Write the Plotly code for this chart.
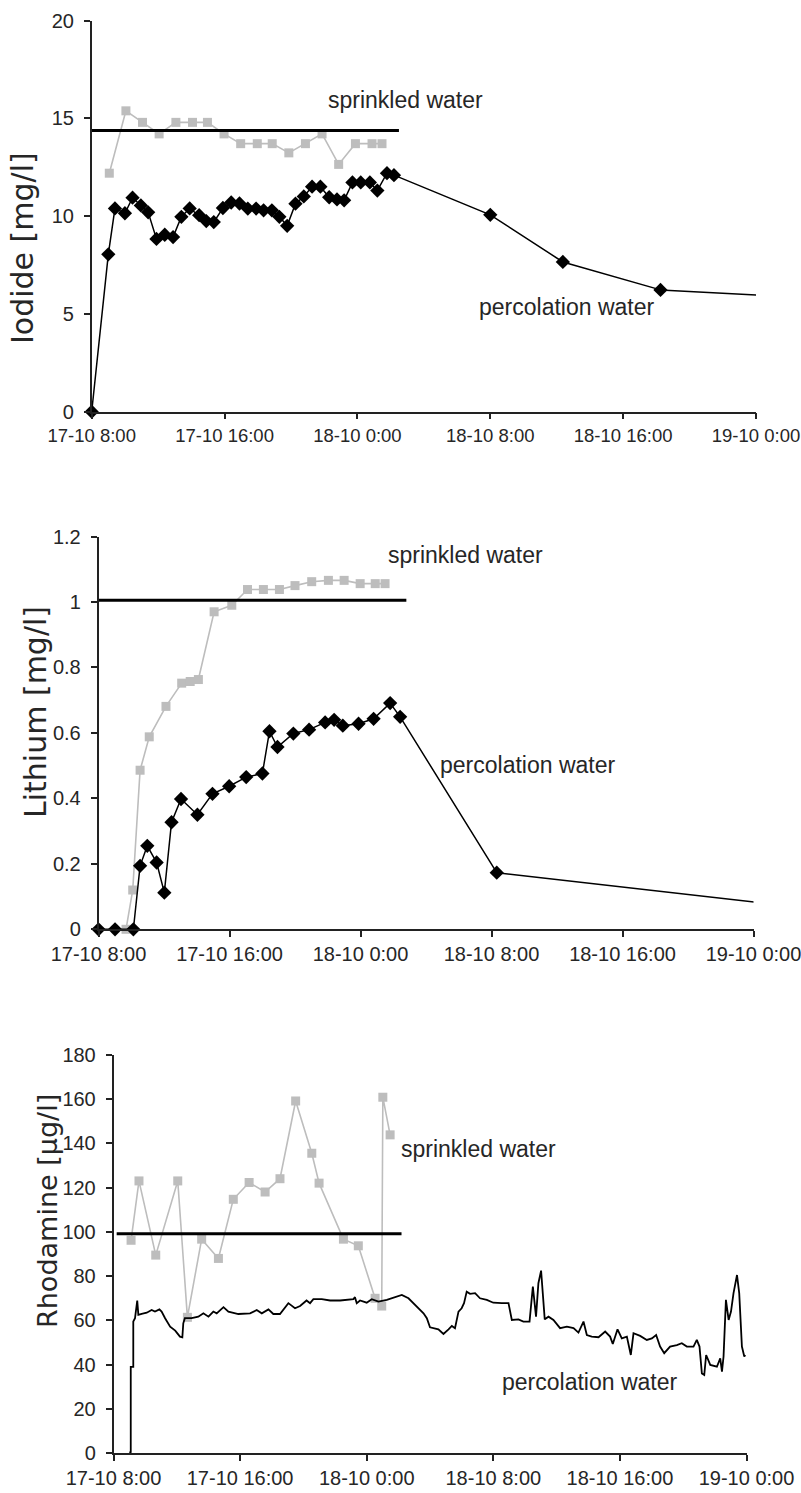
import plotly.graph_objects as go

W, H = 801, 1493

# ---------------- data (x = hours after 17-10 8:00) ----------------
tick_hours = [0, 8, 16, 24, 32, 40]
tick_labels = ["17-10 8:00", "17-10 16:00", "18-10 0:00", "18-10 8:00", "18-10 16:00", "19-10 0:00"]

# Iodide
iod_perc_t = [0.0, 1.0, 1.4, 2.0, 2.46, 2.96, 3.4, 3.9, 4.4, 4.9, 5.4, 5.9, 6.47, 6.9, 7.35, 7.9,
              8.4, 8.9, 9.4, 9.9, 10.35, 10.85, 11.3, 11.77, 12.27, 12.77, 13.27, 13.77, 14.3,
              14.77, 15.2, 15.7, 16.2, 16.75, 17.2, 17.78, 18.2, 24.0, 28.37, 34.25]
iod_perc_v = [0.0, 8.05, 10.4, 10.15, 10.95, 10.55, 10.2, 8.84, 9.05, 8.93, 9.97, 10.4, 10.05, 9.75,
              9.7, 10.42, 10.7, 10.65, 10.39, 10.39, 10.3, 10.3, 9.97, 9.51, 10.64, 11.01, 11.51,
              11.51, 10.97, 10.86, 10.81, 11.73, 11.73, 11.73, 11.31, 12.2, 12.1, 10.07, 7.66, 6.23]
iod_tail_t = [34.25, 41.0]
iod_tail_v = [6.23, 5.92]
iod_spr_t = [1.06, 2.06, 3.06, 4.06, 5.07, 6.07, 6.97, 7.97, 8.97, 9.97, 10.87, 11.87, 12.87,
             13.87, 14.87, 15.88, 16.88, 17.48]
iod_spr_v = [12.2, 15.39, 14.8, 14.21, 14.8, 14.8, 14.8, 14.21, 13.71, 13.71, 13.71, 13.24, 13.71,
             14.21, 12.65, 13.71, 13.71, 13.71]
iod_mean_t = [0.0, 18.5]
iod_mean_v = [14.38, 14.38]

# Lithium
li_perc_t = [0.0, 1.01, 2.13, 2.54, 2.98, 3.55, 4.02, 4.46, 5.04, 6.04, 6.96, 7.98, 9.02, 10.01,
             10.44, 10.93, 11.9, 12.86, 13.84, 14.39, 14.92, 15.88, 16.8, 17.81, 18.42, 24.32]
li_perc_v = [0.0, 0.0, 0.0, 0.194, 0.255, 0.204, 0.112, 0.327, 0.398, 0.35, 0.414, 0.437, 0.465,
             0.476, 0.605, 0.557, 0.598, 0.61, 0.632, 0.64, 0.622, 0.628, 0.643, 0.691, 0.649, 0.173]
li_tail_t = [24.32, 41.0]
li_tail_v = [0.173, 0.078]
li_spr_t = [1.68, 2.09, 2.54, 3.1, 4.12, 5.08, 5.6, 6.1, 7.06, 8.14, 9.1, 10.07, 11.05, 12.0,
            13.02, 14.04, 15.0, 15.98, 16.9, 17.5]
li_spr_v = [0.0, 0.12, 0.486, 0.588, 0.681, 0.752, 0.757, 0.763, 0.97, 0.99, 1.038, 1.038, 1.038,
            1.05, 1.062, 1.066, 1.066, 1.056, 1.056, 1.056]
li_mean_t = [-0.2, 18.8]
li_mean_v = [1.005, 1.005]

# Rhodamine
rho_perc_t = [1.0, 1.09, 1.09, 1.25, 1.25, 1.36, 1.5, 1.57, 1.78, 2.1, 2.41, 2.62, 2.9, 3.04, 3.26,
              3.58, 3.9, 4.2, 4.35, 4.41, 4.51, 4.94, 5.36, 5.68, 6.0, 6.31, 6.52, 6.95, 7.26,
              7.57, 7.89, 8.63, 9.05, 9.37, 9.79, 10.1, 10.52, 11.05, 11.47, 11.79, 12.2, 12.42,
              12.63, 13.16, 13.69, 14.32, 15.16, 15.26, 15.37, 15.58, 16.0, 16.32, 16.74, 17.27,
              17.58, 18.22, 18.64, 19.07, 19.38, 19.59, 19.8, 20.0, 20.53, 20.85, 21.17, 21.38,
              21.58, 21.8, 22.0, 22.15, 22.32, 22.53, 22.85, 23.16, 23.59, 24.0, 24.54, 24.96,
              25.17, 25.59, 25.9, 26.29, 26.5, 26.7, 26.85, 27.02, 27.25, 27.49, 27.8, 28.22,
              28.65, 29.07, 29.38, 29.7, 29.91, 30.22, 30.65, 31.07, 31.38, 31.55, 31.85, 32.12,
              32.44, 32.69, 32.86, 33.28, 33.7, 34.02, 34.29, 34.54, 34.8, 35.17, 35.6, 35.91,
              36.23, 36.65, 36.86, 37.03, 37.18, 37.33, 37.45, 37.71, 38.13, 38.34, 38.45, 38.55,
              38.7, 38.87, 39.02, 39.18, 39.4, 39.54, 39.71, 39.86, 39.92]
rho_perc_v = [0.3, 0.5, 39.0, 39.0, 59.5, 61.0, 69.0, 62.5, 63.0, 63.5, 64.7, 64.0, 65.0, 64.0, 61.0,
              57.2, 55.4, 52.7, 52.4, 58.7, 61.0, 61.0, 61.7, 63.2, 61.7, 64.0, 63.2, 66.0, 64.0,
              63.5, 62.9, 63.2, 64.7, 63.2, 65.0, 62.9, 62.9, 67.8, 65.5, 66.5, 69.0, 67.8,
              69.6, 69.6, 69.0, 69.0, 69.6, 70.5, 67.8, 69.0, 68.0, 69.6, 68.5, 69.3,
              70.0, 71.5, 70.0, 67.0, 64.7, 63.2, 61.0, 56.9, 56.0, 53.9, 56.0, 57.5,
              56.5, 64.0, 65.5, 67.8, 73.0, 72.0, 72.3, 70.0, 69.3, 68.0, 67.8, 67.8,
              60.2, 60.5, 59.5, 59.5, 75.3, 61.7, 76.8, 82.5, 60.5, 61.7, 60.2, 56.5,
              57.2, 56.5, 54.5, 59.5, 53.4, 52.7, 52.4, 55.0, 52.7, 49.4, 56.0, 51.9,
              52.7, 44.4, 54.2, 53.0, 51.2, 51.9, 53.4, 48.2, 45.2, 48.2, 48.9, 49.7,
              48.2, 48.2, 51.2, 48.2, 36.1, 35.4, 44.4, 39.9, 39.1, 42.9, 36.9, 43.7,
              69.3, 60.2, 64.0, 72.3, 80.5, 72.3, 48.2, 43.7, 44.4]
rho_spr_t = [1.11, 1.61, 2.67, 4.06, 4.67, 5.57, 6.63, 7.57, 8.57, 9.58, 10.52, 11.51, 12.53,
             12.99, 14.53, 15.47, 16.53, 16.95, 17.02, 17.48]
rho_spr_v = [96.2, 123.0, 89.5, 123.0, 61.4, 96.7, 88.0, 114.7, 122.3, 118.0, 124.0, 159.1, 135.5,
             122.0, 96.7, 93.7, 70.0, 66.5, 160.8, 143.8]
rho_mean_t = [0.2, 18.2]
rho_mean_v = [99.2, 99.2]

# ---------------- styling ----------------
FONT = "Liberation Sans, Arial, sans-serif"
TFONT = "DejaVu Sans, Liberation Sans, sans-serif"
TXT = "#262626"
AX = "#222222"
GRAY = "#bdbdbd"
LABFS = 23

def dom_x(a, b):
    return [a / W, b / W]

def dom_y(top, bottom):
    return [1 - bottom / H, 1 - top / H]

panels = [
    dict(x=(91.7, 756.0), y=(20.7, 411.7), yr=[0, 20], dt=5, title="Iodide [mg/l]",
         tx=23, ty=248, tfs=30, xfs=18.5, yfs=20),
    dict(x=(98.5, 753.5), y=(536.5, 929.3), yr=[0, 1.2], dt=0.2, title="Lithium [mg/l]",
         tx=36, ty=712, tfs=30, xfs=20, yfs=20),
    dict(x=(113.5, 746.5), y=(1054.7, 1453.3), yr=[0, 180], dt=20, title="Rhodamine [µg/l]",
         tx=47, ty=1211, tfs=27, xfs=20, yfs=20),
]

fig = go.Figure()

def add_panel_traces(k, perc_t, perc_v, tail_t, tail_v, spr_t, spr_v, mean_t, mean_v, markers=True):
    xa = "x" if k == 1 else f"x{k}"
    ya = "y" if k == 1 else f"y{k}"
    fig.add_trace(go.Scatter(x=spr_t, y=spr_v, xaxis=xa, yaxis=ya, mode="lines+markers",
                             line=dict(color=GRAY, width=1.6),
                             marker=dict(symbol="square", size=9, color=GRAY),
                             cliponaxis=False, showlegend=False))
    fig.add_trace(go.Scatter(x=mean_t, y=mean_v, xaxis=xa, yaxis=ya, mode="lines",
                             line=dict(color="black", width=3), showlegend=False))
    if tail_t is not None:
        fig.add_trace(go.Scatter(x=tail_t, y=tail_v, xaxis=xa, yaxis=ya, mode="lines",
                                 line=dict(color="black", width=1.5), showlegend=False))
    fig.add_trace(go.Scatter(x=perc_t, y=perc_v, xaxis=xa, yaxis=ya,
                             mode="lines+markers" if markers else "lines",
                             line=dict(color="black", width=1.5 if markers else 1.8),
                             marker=dict(symbol="diamond", size=11, color="black"),
                             cliponaxis=False, showlegend=False))

add_panel_traces(1, iod_perc_t, iod_perc_v, iod_tail_t, iod_tail_v, iod_spr_t, iod_spr_v, iod_mean_t, iod_mean_v)
add_panel_traces(2, li_perc_t, li_perc_v, li_tail_t, li_tail_v, li_spr_t, li_spr_v, li_mean_t, li_mean_v)
add_panel_traces(3, rho_perc_t, rho_perc_v, None, None, rho_spr_t, rho_spr_v, rho_mean_t, rho_mean_v, markers=False)

layout = dict(template="none", width=W, height=H, margin=dict(l=0, r=0, t=0, b=0, pad=0),
              paper_bgcolor="white", plot_bgcolor="white",
              font=dict(family=FONT, size=20, color=TXT), showlegend=False)

annotations = []
for i, p in enumerate(panels, start=1):
    xk = "xaxis" if i == 1 else f"xaxis{i}"
    yk = "yaxis" if i == 1 else f"yaxis{i}"
    ya = "y" if i == 1 else f"y{i}"
    xa = "x" if i == 1 else f"x{i}"
    layout[xk] = dict(domain=dom_x(*p["x"]), anchor=ya, range=[0, 40], automargin=False,
                      tickmode="array", tickvals=tick_hours, ticktext=tick_labels,
                      ticklabeloverflow="allow",
                      showline=True, linecolor=AX, linewidth=1.5, ticks="outside",
                      ticklen=6, tickwidth=1.5, tickcolor=AX, showgrid=False, zeroline=False,
                      tickfont=dict(family=FONT, size=p["xfs"], color=TXT), fixedrange=True)
    layout[yk] = dict(domain=dom_y(*p["y"]), anchor=xa, range=p["yr"], dtick=p["dt"], tick0=0,
                      automargin=False, ticklabelstandoff=6,
                      showline=True, linecolor=AX, linewidth=1.5, ticks="outside",
                      ticklen=6, tickwidth=1.5, tickcolor=AX, showgrid=False, zeroline=False,
                      tickfont=dict(family=FONT, size=p["yfs"], color=TXT), fixedrange=True)
    annotations.append(dict(text=p["title"], xref="paper", yref="paper", x=p["tx"] / W,
                            y=1 - p["ty"] / H, showarrow=False, textangle=-90,
                            font=dict(family=TFONT, size=p["tfs"], color=TXT),
                            xanchor="center", yanchor="middle"))

labels = [
    ("x", "y", 18.9, 15.95, "sprinkled water"),
    ("x", "y", 28.6, 5.36, "percolation water"),
    ("x2", "y2", 22.4, 1.144, "sprinkled water"),
    ("x2", "y2", 26.2, 0.502, "percolation water"),
    ("x3", "y3", 23.06, 137.4, "sprinkled water"),
    ("x3", "y3", 30.1, 32.2, "percolation water"),
]
for xr, yr, xv, yv, txt in labels:
    annotations.append(dict(text=txt, xref=xr, yref=yr, x=xv, y=yv, showarrow=False,
                            font=dict(family=FONT, size=LABFS, color=TXT),
                            xanchor="center", yanchor="middle"))

layout["annotations"] = annotations
fig.update_layout(**layout)
fig.write_html("out.html")
